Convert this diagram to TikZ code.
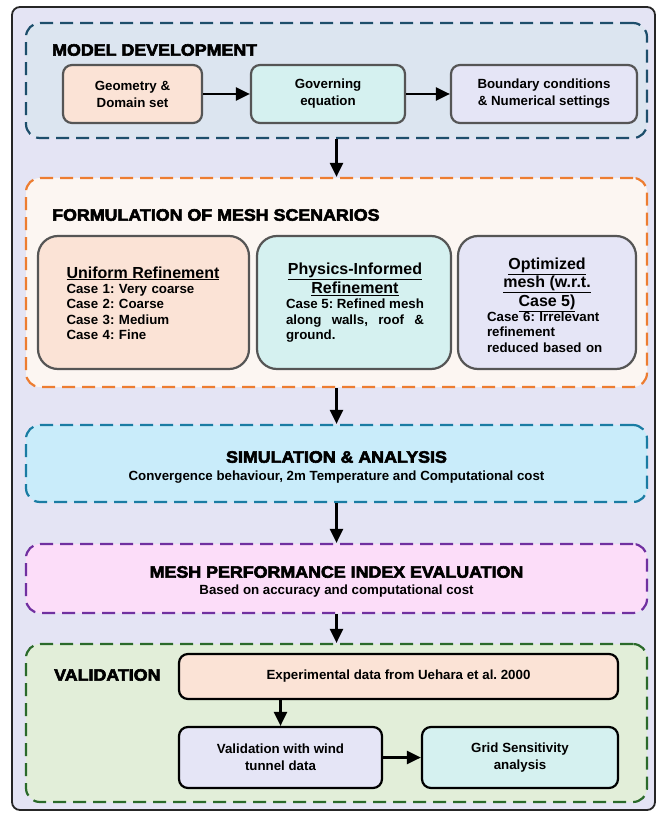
\documentclass[tikz,border=0pt]{standalone}
\usepackage{fontspec}
\setmainfont{Liberation Sans}
\newfontfamily\heavyfont[FakeBold=3.5,FakeStretch=1.08]{Liberation Sans Bold}
\usetikzlibrary{arrows.meta}
\definecolor{outerfill}{HTML}{E4E4F4}
\definecolor{devfill}{HTML}{DCE5F0}
\definecolor{devline}{HTML}{1D4E6B}
\definecolor{peach}{HTML}{FBE3D6}
\definecolor{aqua}{HTML}{D5F1F0}
\definecolor{lav}{HTML}{E5E5F6}
\definecolor{boxline}{HTML}{555555}
\definecolor{formfill}{HTML}{FCF6F2}
\definecolor{formline}{HTML}{ED7D31}
\definecolor{simfill}{HTML}{C9ECFA}
\definecolor{simline}{HTML}{1A7CA3}
\definecolor{mpifill}{HTML}{FCDDF9}
\definecolor{mpiline}{HTML}{7030A0}
\definecolor{valfill}{HTML}{E2EED9}
\definecolor{valline}{HTML}{2B6A2B}
\tikzset{
  phase/.style={draw, line width=2.2pt, dash pattern=on 13pt off 7pt, rounded corners=14pt, inner sep=0pt},
  sbox/.style={draw=boxline, line width=2.2pt, rounded corners=9pt, inner sep=0pt, align=center, font=\bfseries\fontsize{13.3}{17}\selectfont},
  bigbox/.style={draw=boxline, line width=2.2pt, rounded corners=20pt, inner sep=0pt},
  kbox/.style={draw=black, line width=2.2pt, rounded corners=9pt, inner sep=0pt, align=center, font=\bfseries\fontsize{13.3}{17}\selectfont},
  ttl/.style={font=\heavyfont\fontsize{16.5}{18}\selectfont, inner sep=0pt},
  sub/.style={font=\bfseries\fontsize{13.3}{15.3}\selectfont, inner sep=0pt},
  arr/.style={line width=2.4pt, -{Triangle[length=14pt,width=13pt]}},
}
\begin{document}
\frenchspacing
\begin{tikzpicture}[x=1pt,y=-1pt]
\useasboundingbox (0,0) rectangle (659,813);
\node[draw=black!85, fill=outerfill, line width=1.8pt, rounded corners=8pt, minimum width=643pt, minimum height=803pt, inner sep=0pt] (outer) at (333.5,408.5) {};

% Model development
\node[phase, draw=devline, fill=devfill, minimum width=621pt, minimum height=115pt] (dev) at (336.5,80.5) {};
\node[ttl, anchor=west] (devt) at (52,50) {MODEL DEVELOPMENT};
\node[sbox, fill=peach, minimum width=139pt, minimum height=58pt] (geo) at (132.5,94) {Geometry \&\\Domain set};
\node[sbox, fill=aqua, minimum width=154pt, minimum height=58pt] (gov) at (328,94) {Governing\\equation};
\node[sbox, fill=lav, minimum width=186pt, minimum height=58pt] (bnd) at (544,94) {Boundary conditions\\\& Numerical settings};
\draw[arr] (geo) -- (gov);
\draw[arr] (gov) -- (bnd);

% Formulation
\node[phase, draw=formline, fill=formfill, minimum width=621pt, minimum height=209pt] (form) at (336.5,282.5) {};
\node[ttl, anchor=west] (formt) at (52,215) {FORMULATION OF MESH SCENARIOS};
\node[bigbox, fill=peach, minimum width=211pt, minimum height=133pt] (uni) at (143.5,302.5) {};
\node[bigbox, fill=aqua, minimum width=194pt, minimum height=133pt] (phy) at (354,302.5) {};
\node[bigbox, fill=lav, minimum width=178pt, minimum height=133pt] (opt) at (547,302.5) {};
\node[sub, text width=155pt, align=left] (unit) at (144,303) {{\fontsize{16}{16.5}\selectfont\underline{Uniform Refinement}}\\Case 1: Very coarse\\Case 2: Coarse\\Case 3: Medium\\Case 4: Fine};
\node[sub, text width=138pt, align=justify] (phyt) at (355,302.5) {{\centering\fontsize{16}{19}\selectfont\underline{Physics-Informed}\\\underline{Refinement}\par}Case 5: Refined mesh\linebreak along walls, roof \&\linebreak ground.};
\node[sub, text width=120pt, align=left] (optt) at (547,305) {{\centering\fontsize{16}{18.5}\selectfont\underline{Optimized}\\\underline{mesh (w.r.t.}\\\underline{Case 5)}\par}Case 6: Irrelevant\\refinement\\reduced based on};
\draw[arr] (dev) -- (form);

% Simulation
\node[phase, draw=simline, fill=simfill, minimum width=621pt, minimum height=77pt] (sim) at (336.5,463.5) {};
\node[ttl] (simt) at (336.5,457) {SIMULATION \& ANALYSIS};
\node[sub] (sims) at (336.5,477) {Convergence behaviour, 2m Temperature and Computational cost};
\draw[arr] (form) -- (sim);

% MPI
\node[phase, draw=mpiline, fill=mpifill, minimum width=621pt, minimum height=69pt] (mpi) at (336.5,578.5) {};
\node[ttl] (mpit) at (336.5,572) {MESH PERFORMANCE INDEX EVALUATION};
\node[sub] (mpis) at (336.5,591) {Based on accuracy and computational cost};
\draw[arr] (sim) -- (mpi);

% Validation
\node[phase, draw=valline, fill=valfill, minimum width=621pt, minimum height=158pt] (val) at (336.5,723) {};
\node[ttl, anchor=west] (valt) at (54,675) {VALIDATION};
\node[kbox, fill=peach, minimum width=439pt, minimum height=45pt] (exp) at (398.5,676.5) {Experimental data from Uehara et al. 2000};
\node[kbox, fill=lav, minimum width=203pt, minimum height=61pt] (vwt) at (280.5,757.5) {Validation with wind\\tunnel data};
\node[kbox, fill=aqua, minimum width=196pt, minimum height=61pt] (grid) at (520,757.5) {Grid Sensitivity\\analysis};
\draw[arr] (mpi) -- (val);
\draw[arr] (exp.south -| vwt) -- (vwt);
\draw[arr] (vwt) -- (grid);
\end{tikzpicture}
\end{document}
